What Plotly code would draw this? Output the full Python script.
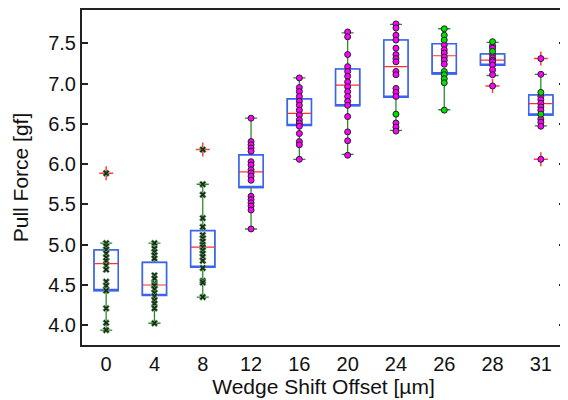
import plotly.graph_objects as go

categories = ["0", "4", "8", "12", "16", "20", "24", "26", "28", "31"]

# Box statistics per category
q1 = [4.43, 4.37, 4.72, 5.71, 6.48, 6.725, 6.83, 7.12, 7.227, 6.61]
median = [4.765, 4.50, 4.97, 5.905, 6.63, 6.98, 7.21, 7.345, 7.29, 6.75]
q3 = [4.935, 4.78, 5.175, 6.115, 6.81, 7.18, 7.54, 7.495, 7.367, 6.858]
whisker_low = [3.94, 4.025, 4.35, 5.195, 6.06, 6.12, 6.42, 6.675, 7.10, 6.474]
whisker_high = [5.02, 5.02, 5.75, 6.57, 7.07, 7.63, 7.735, 7.68, 7.512, 7.115]

# Individual measurements, "x" markers
x_points = {
    "0": [5.887, 5.02, 4.98, 4.94, 4.89, 4.84, 4.80, 4.74, 4.69, 4.54, 4.49, 4.43, 4.21, 4.03, 3.94],
    "4": [5.02, 4.95, 4.91, 4.87, 4.83, 4.62, 4.58, 4.52, 4.50, 4.49, 4.45, 4.40, 4.36, 4.31, 4.27, 4.21, 4.025],
    "8": [6.18, 5.75, 5.62, 5.33, 5.22, 5.12, 5.08, 5.04, 5.00, 4.97, 4.93, 4.89, 4.85, 4.80, 4.71, 4.55, 4.53, 4.35],
}
# Individual measurements, magenta circles
magenta_points = {
    "12": [6.57, 6.28, 6.24, 6.20, 6.16, 6.03, 5.99, 5.93, 5.89, 5.85, 5.80, 5.60, 5.56, 5.52, 5.48, 5.43, 5.195],
    "16": [7.07, 6.95, 6.90, 6.84, 6.78, 6.73, 6.67, 6.61, 6.55, 6.51, 6.47, 6.38, 6.28, 6.24, 6.06],
    "20": [7.64, 7.58, 7.36, 7.21, 7.15, 7.09, 7.02, 6.96, 6.90, 6.84, 6.78, 6.73, 6.59, 6.40, 6.29, 6.11],
    "24": [7.74, 7.69, 7.60, 7.54, 7.44, 7.36, 7.31, 7.27, 7.15, 7.11, 6.94, 6.89, 6.84, 6.51, 6.46, 6.41],
    "26": [7.48, 7.42, 7.38, 7.33, 7.29, 7.24],
    "28": [7.47, 7.44, 7.36, 7.32, 7.29, 7.27, 7.23, 7.17, 7.11, 6.97],
    "31": [7.31, 7.115, 6.84, 6.80, 6.755, 6.71, 6.67, 6.56, 6.52, 6.47, 6.06],
}
# Individual measurements, green circles
green_points = {
    "24": [6.62],
    "26": [7.68, 7.60, 7.54, 7.15, 7.11, 7.06, 7.01, 6.67],
    "28": [7.52, 7.40],
    "31": [6.89, 6.62],
}
# Outliers (red crosses)
outliers = {
    "0": [5.887],
    "8": [6.18],
    "28": [6.97],
    "31": [7.31, 6.06],
}


def flatten(d):
    xs, ys = [], []
    for k, vals in d.items():
        for v in vals:
            xs.append(k)
            ys.append(v)
    return xs, ys


fig = go.Figure()

# Whiskers + caps (green)
fig.add_trace(go.Box(
    x=categories, q1=q1, median=median, q3=q3,
    lowerfence=whisker_low, upperfence=whisker_high,
    width=0.5, whiskerwidth=0.5,
    line=dict(color="#2e8b2e", width=1.3),
    fillcolor="rgba(0,0,0,0)", hoverinfo="skip", showlegend=False,
))
# Blue boxes
fig.add_trace(go.Box(
    x=categories, q1=q1, median=q1, q3=q3,
    lowerfence=q1, upperfence=q3,
    width=0.5, whiskerwidth=0,
    line=dict(color="#3a63f5", width=1.6),
    fillcolor="white", hoverinfo="skip", showlegend=False,
))
# Red medians
fig.add_trace(go.Box(
    x=categories, q1=median, median=median, q3=median,
    lowerfence=median, upperfence=median,
    width=0.5, whiskerwidth=0,
    line=dict(color="#ff3030", width=1.2),
    fillcolor="rgba(0,0,0,0)", hoverinfo="skip", showlegend=False,
))

ox, oy = flatten(outliers)
fig.add_trace(go.Scatter(
    x=ox, y=oy, mode="markers", showlegend=False,
    marker=dict(symbol="cross-thin", size=10, line=dict(color="#ff4040", width=1.5)),
))

xx, xy = flatten(x_points)
fig.add_trace(go.Scatter(
    x=xx, y=xy, mode="markers", showlegend=False,
    marker=dict(symbol="x", size=6, color="#1a2e1a", line=dict(color="#7fbf7f", width=0.6)),
))

mx, my = flatten(magenta_points)
fig.add_trace(go.Scatter(
    x=mx, y=my, mode="markers", showlegend=False,
    marker=dict(symbol="circle", size=6, color="#ff00ff", line=dict(color="#222222", width=1)),
))

gx, gy = flatten(green_points)
fig.add_trace(go.Scatter(
    x=gx, y=gy, mode="markers", showlegend=False,
    marker=dict(symbol="circle", size=6, color="#00e000", line=dict(color="#222222", width=1)),
))

font_family = "Liberation Sans, Arial, sans-serif"
# The page body has an 8px margin, so the figure is sized to fit the window.
fig.update_layout(
    width=560, height=392,
    margin=dict(l=74, r=3, t=2, b=55),
    paper_bgcolor="white", plot_bgcolor="white",
    boxmode="overlay",
    font=dict(family=font_family, size=20, color="#111111"),
    xaxis=dict(
        type="category", categoryorder="array", categoryarray=categories,
        range=[-0.5, 9.5], automargin=False,
        showline=True, linecolor="#222222", linewidth=2, mirror=True,
        ticks="", showgrid=False, zeroline=False,
        tickfont=dict(size=20),
        title=dict(text="Wedge Shift Offset [µm]", font=dict(size=21), standoff=2),
    ),
    yaxis=dict(
        range=[3.755, 7.913], automargin=False,
        tickvals=[4.0, 4.5, 5.0, 5.5, 6.0, 6.5, 7.0, 7.5],
        ticktext=["4.0", "4.5", "5.0", "5.5", "6.0", "6.5", "7.0", "7.5"],
        showline=True, linecolor="#222222", linewidth=2, mirror="ticks",
        ticks="inside", ticklen=6, tickwidth=1.5, tickcolor="#222222",
        showgrid=False, zeroline=False,
        tickfont=dict(size=20),
        title=dict(text="Pull Force [gf]", font=dict(size=21), standoff=14),
    ),
)

fig.write_html("out.html")
